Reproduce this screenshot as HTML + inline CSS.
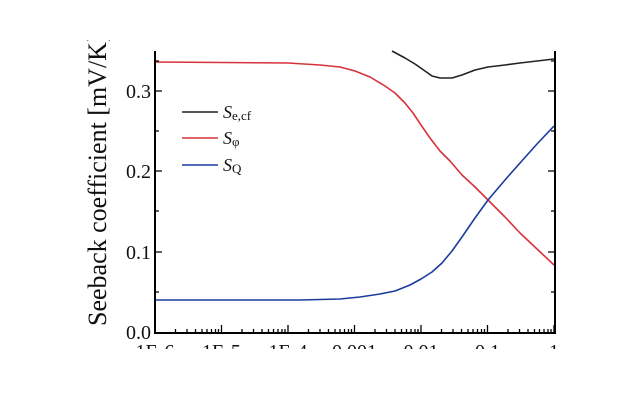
<!DOCTYPE html>
<html><head><style>body{margin:0;background:#fff}svg{display:block}</style></head><body>
<svg width="640" height="400" xmlns="http://www.w3.org/2000/svg" font-family="Liberation Serif, serif">
<rect width="640" height="400" fill="#fff"/>
<g fill="none" stroke-width="1.6" stroke-linejoin="round">
<path stroke="#d8323c" d="M155,62 L288,63 L320,65 L340,67 L355,71 L370,77 L385,86 L395,93 L405,103 L413,113 L421,125 L430,138 L440,151 L450,161 L462,175 L475,187 L488,200 L505,217 L520,233 L537,249 L554,265"/>
<path stroke="#1a3c9c" d="M155,300 L300,300 L340,299 L360,297 L380,294 L395,291 L410,285 L421,279 L432,272 L442,263 L452,251 L462,237 L475,218 L488,200 L505,180 L520,163 L537,144 L554,126"/>
<path stroke="#222" d="M392,51 L405,58 L415,64 L425,71 L432,76 L440,78 L452,78 L462,75 L475,70 L488,67 L505,65 L520,63 L537,61 L554,59"/>
</g>
<g stroke="#000" stroke-width="2" fill="none">
<path d="M155,51 V333 H555 V51"/>
</g>
<g stroke="#000" stroke-width="1.3">
<path d="M155,91h7M155,171h7M155,252h7M155,131h4M155,211h4M155,292h4M155,61h4"/>
<path d="M555,91h-7M555,171h-7M555,252h-7M555,131h-4M555,211h-4M555,292h-4M555,61h-4"/>
<path d="M155,333v-8M221.5,333v-8M288,333v-8M354.5,333v-8M421,333v-8M487.5,333v-8M554,333v-8"/>
<path d="M175.5,333v-4M187,333v-4M195.5,333v-4M202,333v-4M207,333v-4M211.5,333v-4M215.5,333v-4M218.5,333v-4"/>
<path d="M242,333v-4M253.5,333v-4M262,333v-4M268.5,333v-4M273.5,333v-4M278,333v-4M282,333v-4M285,333v-4"/>
<path d="M308.5,333v-4M320,333v-4M328.5,333v-4M335,333v-4M340,333v-4M344.5,333v-4M348.5,333v-4M351.5,333v-4"/>
<path d="M375,333v-4M386.5,333v-4M395,333v-4M401.5,333v-4M406.5,333v-4M411,333v-4M415,333v-4M418,333v-4"/>
<path d="M441.5,333v-4M453,333v-4M461.5,333v-4M468,333v-4M473,333v-4M477.5,333v-4M481.5,333v-4M484.5,333v-4"/>
<path d="M508,333v-4M519.5,333v-4M528,333v-4M534.5,333v-4M539.5,333v-4M544,333v-4M548,333v-4M551,333v-4"/>
</g>
<g font-size="20" text-anchor="end" fill="#111">
<text x="151" y="98">0.3</text><text x="151" y="178">0.2</text><text x="151" y="259">0.1</text><text x="151" y="339">0.0</text>
</g>
<g font-size="20" text-anchor="middle" fill="#111">
<text x="155" y="358">1E-6</text><text x="221.5" y="358">1E-5</text><text x="288" y="358">1E-4</text><text x="354.5" y="358">0.001</text><text x="421" y="358">0.01</text><text x="487.5" y="358">0.1</text><text x="554" y="358">1</text>
</g>
<rect x="0" y="349" width="640" height="51" fill="#fff"/>
<text transform="translate(106,326) rotate(-90)" font-size="26" fill="#111">Seeback coefficient [mV/K]</text>
<rect x="0" y="0" width="640" height="40" fill="#fff"/>
<g stroke-width="1.6">
<line x1="182" y1="112" x2="218" y2="112" stroke="#222"/>
<line x1="182" y1="138" x2="218" y2="138" stroke="#d8323c"/>
<line x1="182" y1="165" x2="218" y2="165" stroke="#1a3c9c"/>
</g>
<g font-size="18" fill="#111">
<text x="223" y="118"><tspan font-style="italic">S</tspan><tspan font-size="13" dy="2">e,cf</tspan></text>
<text x="223" y="144"><tspan font-style="italic">S</tspan><tspan font-size="13" dy="2">φ</tspan></text>
<text x="223" y="171"><tspan font-style="italic">S</tspan><tspan font-size="13" dy="2">Q</tspan></text>
</g>
</svg>
</body></html>
